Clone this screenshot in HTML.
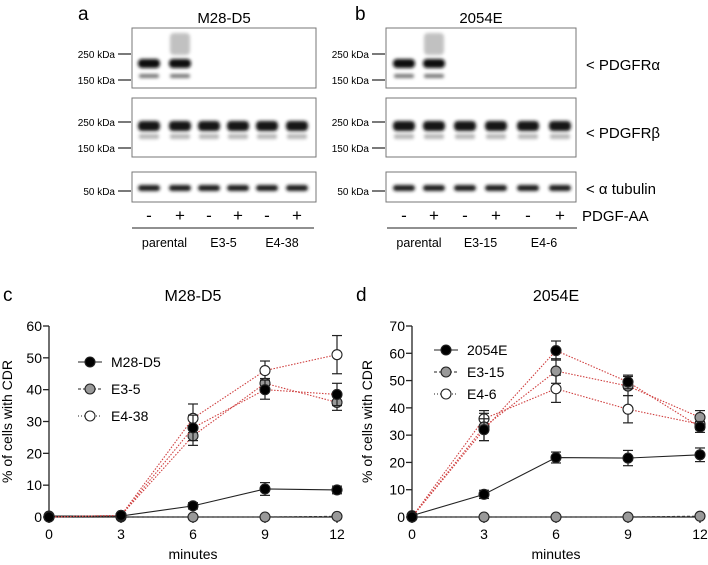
<!DOCTYPE html>
<html><head><meta charset="utf-8"><style>
body{margin:0;background:#fff}
svg{display:block;font-family:"Liberation Sans",Arial,sans-serif}
</style></head><body>
<svg id="fig" width="708" height="565" viewBox="0 0 708 565" xmlns="http://www.w3.org/2000/svg">
<defs><filter id="bl" x="-20%" y="-100%" width="140%" height="300%"><feGaussianBlur stdDeviation="1.6"/></filter></defs>
<g id="blots"></g>
<g id="chartC"></g>
<g id="chartD"></g>
</svg>
<script>
// ---- chart c data ----
const xCats = [0, 3, 6, 9, 12];
const cTicksY = [0, 10, 20, 30, 40, 50, 60];
const cStimM28 = [0, 0.5, 28, 40, 38.5];
const cStimE35 = [0, 0.5, 25.5, 42, 36];
const cStimE438 = [0, 0.5, 31, 46, 51];
const cUnstimM28 = [0.3, 0.3, 3.5, 8.8, 8.5];
const cUnstimE = [0, 0, 0, 0, 0.2];
const cErrM28 = [0, 0, 4, 3, 3.5];
const cErrE35 = [0, 0, 3, 1.5, 2.5];
const cErrE438 = [0, 0, 4.5, 3, 6];
const cErrUn = [0, 0, 1, 2, 1.2];
// ---- chart d data ----
const dTicksY = [0, 10, 20, 30, 40, 50, 60, 70];
const dStim2054 = [0, 32, 61, 49.5, 33];
const dStimE315 = [0, 33, 53.5, 48, 36.5];
const dStimE46 = [0, 36, 47, 39.5, 34];
const dUnstim2054 = [0.5, 8.3, 21.8, 21.6, 22.8];
const dUnstimE = [0, 0, 0, 0, 0.3];
const dErr2054 = [0, 4, 3.5, 2.5, 2];
const dErrE315 = [0, 5, 4.5, 3.5, 2.5];
const dErrE46 = [0, 3, 5, 5, 2];
const dErrUn = [0, 1.5, 2, 2.8, 2.5];

const NS = "http://www.w3.org/2000/svg";
function mk(parent, tag, attrs, text){
  const e = document.createElementNS(NS, tag);
  for (const k in attrs) e.setAttribute(k, attrs[k]);
  if (text !== undefined) e.textContent = text;
  parent.appendChild(e); return e;
}

// ---------- blots ----------
const B = document.getElementById('blots');
function blot(cfg){
  const g = mk(B,'g',{});
  
  
  mk(g,'text',{x:cfg.letterX,y:20,'font-size':19},cfg.letter);
  mk(g,'text',{x:(cfg.x0+cfg.x1)/2,y:23,'font-size':15,'text-anchor':'middle'},cfg.title);
  const boxes=[[28,88],[98,157],[172,202]];
  const lanes=cfg.lanes;
  boxes.forEach((b,bi)=>{
    const bg = mk(g,'g',{});
    
    
    mk(bg,'rect',{x:cfg.x0,y:b[0],width:cfg.x1-cfg.x0,height:b[1]-b[0],fill:'#fff',stroke:'#777','stroke-width':1});
    lanes.forEach((lx,li)=>{
      if(bi===0){
        if(li<2){
          mk(bg,'rect',{x:lx-11,y:59,width:22,height:9,rx:4,fill:'#111',filter:'url(#bl)'});
          mk(bg,'rect',{x:lx-10,y:74,width:20,height:4,rx:2,fill:'#777',filter:'url(#bl)'});
          if(li===1) mk(bg,'rect',{x:lx-10,y:33,width:20,height:22,rx:4,fill:'#999',opacity:0.6,filter:'url(#bl)'});
        }
      } else if(bi===1){
        mk(bg,'rect',{x:lx-11,y:121,width:22,height:10,rx:4,fill:'#141414',filter:'url(#bl)'});
        mk(bg,'rect',{x:lx-10,y:134,width:20,height:5,rx:2,fill:'#888',opacity:0.6,filter:'url(#bl)'});
      } else {
        mk(bg,'rect',{x:lx-11,y:185,width:22,height:6,rx:3,fill:'#1a1a1a',filter:'url(#bl)'});
      }
    });
    // MW markers
    const mws = bi===0?[['250 kDa',54],['150 kDa',80]]:bi===1?[['250 kDa',122],['150 kDa',148]]:[['50 kDa',191]];
    mws.forEach(m=>{
      mk(bg,'line',{x1:cfg.x0-14,x2:cfg.x0-1,y1:m[1],y2:m[1],stroke:'#222','stroke-width':1.2});
      mk(bg,'text',{x:cfg.x0-17,y:m[1]+4,'font-size':10,'text-anchor':'end'},m[0]);
    });
  });
  lanes.forEach((lx,li)=>{
    const t=mk(g,'text',{x:lx,y:221,'font-size':17,'text-anchor':'middle'},li%2?'+':'-');
    
  });
  cfg.groups.forEach((gname,gi)=>{
    const a=lanes[gi*2]-17,b=lanes[gi*2+1]+17;
    mk(g,'line',{x1:a,x2:b,y1:228,y2:228,stroke:'#222','stroke-width':1});
    mk(g,'text',{x:(a+b)/2,y:247,'font-size':12.5,'text-anchor':'middle'},gname);
  });
}
blot({name:'blot-a',letter:'a',letterX:78,title:'M28-D5',x0:132,x1:316,lanes:[149,180,209,238,267,297],groups:['parental','E3-5','E4-38']});
blot({name:'blot-b',letter:'b',letterX:355,title:'2054E',x0:386,x1:576,lanes:[404,434,465,496,528,560],groups:['parental','E3-15','E4-6']});
[['< PDGFRα',70],['< PDGFRβ',138],['< α tubulin',194],['PDGF-AA',221]].forEach((r,i)=>{
  const t=mk(B,'text',{x:i===3?582:586,y:r[1],'font-size':15},r[0]);
  
  
});

// ---------- charts ----------
function chart(gid, o){
  const G = document.getElementById(gid);
  const sx = v => o.x0 + (v - 0) / 12 * (o.x1 - o.x0);
  const sy = v => o.y0 - v / o.ymax * (o.y0 - o.yTop);
  mk(G,'text',{x:o.letterX,y:301,'font-size':19},o.letter);
  mk(G,'text',{x:(o.x0+o.x1)/2,y:301,'font-size':16,'text-anchor':'middle'},o.title);
  // axes
  const ya = mk(G,'line',{x1:o.x0,x2:o.x0,y1:o.yTop,y2:o.y0+6,stroke:'#222','stroke-width':1.3});
  
  
  const xa = mk(G,'line',{x1:o.x0,x2:o.x1,y1:o.y0,y2:o.y0,stroke:'#222','stroke-width':1.3});
  
  
  o.ticks.forEach(t=>{
    mk(G,'line',{x1:o.x0-6,x2:o.x0,y1:sy(t),y2:sy(t),stroke:'#222','stroke-width':1.3});
    const l=mk(G,'text',{x:o.x0-7,y:sy(t)+5,'font-size':14,'text-anchor':'end'},t);
    
  });
  xCats.forEach(c=>{
    mk(G,'line',{x1:sx(c),x2:sx(c),y1:o.y0,y2:o.y0+6,stroke:'#222','stroke-width':1.3});
    const l=mk(G,'text',{x:sx(c),y:o.y0+22,'font-size':14,'text-anchor':'middle'},c);
    
  });
  const yt=mk(G,'text',{x:0,y:0,'font-size':14,'text-anchor':'middle',transform:`translate(${o.yLabX},${(o.y0+o.yTop)/2}) rotate(-90)`},'% of cells with CDR');
  
  const xt=mk(G,'text',{x:(o.x0+o.x1)/2,y:559,'font-size':14,'text-anchor':'middle'},'minutes');
  
  // series
  o.series.forEach(s=>{
    const sg=mk(G,'g',{});
    
    
    const pts=s.vals.map((v,i)=>sx(xCats[i])+','+sy(v)).join(' ');
    mk(sg,'polyline',{points:pts,fill:'none',stroke:s.line,'stroke-width':1.1,'stroke-dasharray':s.dash||'none'});
    s.vals.forEach((v,i)=>{
      const e=s.err[i];
      if(e>0){
        const x=sx(xCats[i]);
        mk(sg,'line',{x1:x,x2:x,y1:sy(v+e),y2:sy(v-e),stroke:'#222','stroke-width':1.2});
        mk(sg,'line',{x1:x-5,x2:x+5,y1:sy(v+e),y2:sy(v+e),stroke:'#222','stroke-width':1.2});
        mk(sg,'line',{x1:x-5,x2:x+5,y1:sy(v-e),y2:sy(v-e),stroke:'#222','stroke-width':1.2});
      }
    });
    s.vals.forEach((v,i)=>{
      const p=mk(sg,'circle',{cx:sx(xCats[i]),cy:sy(v),r:5,fill:s.fill,stroke:'#222','stroke-width':1.1});
      
    });
  });
  // legend
  o.legend.forEach((L,i)=>{
    const lg=mk(G,'g',{});
    
    
    const y=o.legY+i*o.legGap;
    mk(lg,'line',{x1:o.legX-12,x2:o.legX+12,y1:y,y2:y,stroke:'#222','stroke-width':1.1,'stroke-dasharray':L.dash||'none'});
    mk(lg,'circle',{cx:o.legX,cy:y,r:5,fill:L.fill,stroke:'#222','stroke-width':1.1});
    mk(lg,'text',{x:o.legX+21,y:y+5,'font-size':14},L.label);
  });
}
const RED='#d04040';
chart('chartC',{letter:'c',letterX:3,title:'M28-D5',x0:49,x1:337,y0:517,yTop:326,ymax:60,ticks:cTicksY,yLabX:12,
  legX:90,legY:362,legGap:27,
  legend:[{label:'M28-D5',fill:'#000'},{label:'E3-5',fill:'#999',dash:'3,2'},{label:'E4-38',fill:'#fff',dash:'1,2'}],
  series:[
    {name:'series-e3-5-unstim',vals:cUnstimE,err:[0,0,0,0,0],line:'#333',fill:'#999',dash:'3,2'},
    {name:'series-m28-d5-unstim',vals:cUnstimM28,err:cErrUn,line:'#222',fill:'#000'},
    {name:'series-e4-38-stim',vals:cStimE438,err:cErrE438,line:RED,fill:'#fff',dash:'1.5,1.5'},
    {name:'series-e3-5-stim',vals:cStimE35,err:cErrE35,line:RED,fill:'#999',dash:'1.5,1.5'},
    {name:'series-m28-d5-stim',vals:cStimM28,err:cErrM28,line:RED,fill:'#000',dash:'1.5,1.5'}
  ]});
chart('chartD',{letter:'d',letterX:356,title:'2054E',x0:412,x1:700,y0:517,yTop:326,ymax:70,ticks:dTicksY,yLabX:372,
  legX:446,legY:350,legGap:22,
  legend:[{label:'2054E',fill:'#000'},{label:'E3-15',fill:'#999',dash:'3,2'},{label:'E4-6',fill:'#fff',dash:'1,2'}],
  series:[
    {name:'series-e3-15-unstim',vals:dUnstimE,err:[0,0,0,0,0],line:'#333',fill:'#999',dash:'3,2'},
    {name:'series-2054e-unstim',vals:dUnstim2054,err:dErrUn,line:'#222',fill:'#000'},
    {name:'series-e4-6-stim',vals:dStimE46,err:dErrE46,line:RED,fill:'#fff',dash:'1.5,1.5'},
    {name:'series-e3-15-stim',vals:dStimE315,err:dErrE315,line:RED,fill:'#999',dash:'1.5,1.5'},
    {name:'series-2054e-stim',vals:dStim2054,err:dErr2054,line:RED,fill:'#000',dash:'1.5,1.5'}
  ]});
</script>
</body></html>
